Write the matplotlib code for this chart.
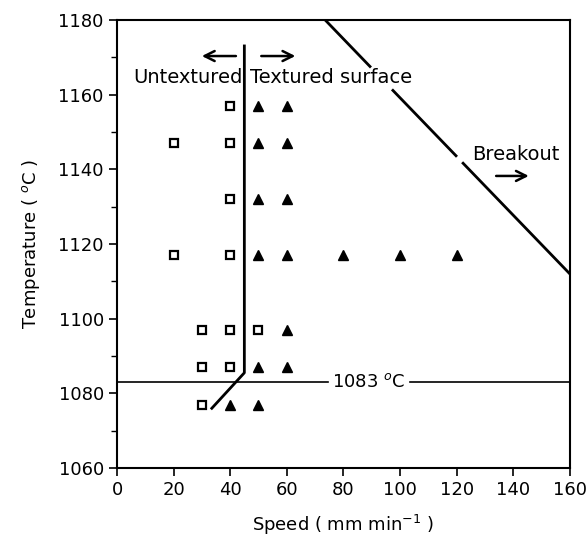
import matplotlib.pyplot as plt
from matplotlib.ticker import MultipleLocator
import numpy as np

# untextured samples (open squares)
sq_speed = [20, 20, 40, 40, 40, 40, 30, 40, 50, 30, 40, 30]
sq_temp = [1147, 1117, 1157, 1147, 1132, 1117, 1097, 1097, 1097, 1087, 1087, 1077]

# textured samples (filled triangles)
tri_speed = [50, 60, 50, 60, 50, 60, 50, 60, 80, 100, 120, 60, 50, 60, 40, 50]
tri_temp = [1157, 1157, 1147, 1147, 1132, 1132, 1117, 1117, 1117, 1117, 1117,
            1097, 1087, 1087, 1077, 1077]

# boundary between untextured / textured
bound_x = [33.5, 45, 45]
bound_y = [1076, 1085.5, 1173]

# breakout line (gaps where labels sit)
brk_x = [73.5, 89.4, np.nan, 97.5, 119.8, np.nan, 122.3, 160]
brk_y = [1180, 1167.5, np.nan, 1161.1, 1143.6, np.nan, 1141.6, 1112]

melt_temp = 1083

plt.rcParams['font.family'] = 'DejaVu Sans'
fs = 13
fig = plt.figure(figsize=(5.88, 5.5), dpi=100)
ax = fig.add_axes([0.199, 0.149, 0.77, 0.815])

ax.plot(sq_speed, sq_temp, ls='none', marker='s', ms=6, mfc='white',
        mec='black', mew=1.6)
ax.plot(tri_speed, tri_temp, ls='none', marker='^', ms=7, color='black')

ax.plot(bound_x, bound_y, color='black', lw=2)
ax.plot(brk_x, brk_y, color='black', lw=2)

ax.plot([0, 74.5], [melt_temp, melt_temp], color='black', lw=1.2)
ax.plot([103.5, 160], [melt_temp, melt_temp], color='black', lw=1.2)
ax.text(89, melt_temp, '1083 $^{o}$C', ha='center', va='center', fontsize=fs)

ax.text(44.5, 1164.5, 'Untextured', ha='right', va='center', fontsize=14)
ax.text(47, 1164.5, 'Textured surface', ha='left', va='center', fontsize=14)
ax.text(125.5, 1144, 'Breakout', ha='left', va='center', fontsize=14)

arrow = dict(arrowstyle='->', lw=1.8, color='black', mutation_scale=18)
ax.annotate('', xy=(29, 1170.3), xytext=(43, 1170.3), arrowprops=arrow)
ax.annotate('', xy=(64, 1170.3), xytext=(50, 1170.3), arrowprops=arrow)
ax.annotate('', xy=(146.5, 1138.2), xytext=(133, 1138.2), arrowprops=arrow)

ax.set_xlim(0, 160)
ax.set_ylim(1060, 1180)
ax.xaxis.set_major_locator(MultipleLocator(20))
ax.yaxis.set_major_locator(MultipleLocator(20))
ax.yaxis.set_minor_locator(MultipleLocator(10))
ax.tick_params(which='major', direction='out', length=6, width=1.2, labelsize=fs)
ax.tick_params(which='minor', direction='out', length=4, width=1)
for s in ax.spines.values():
    s.set_linewidth(1.5)

ax.set_xlabel('Speed ( mm min$^{-1}$ )', fontsize=fs, labelpad=10)
ax.set_ylabel('Temperature ( $^{o}$C )', fontsize=fs, labelpad=12)

fig.savefig('out.png', dpi=100)
